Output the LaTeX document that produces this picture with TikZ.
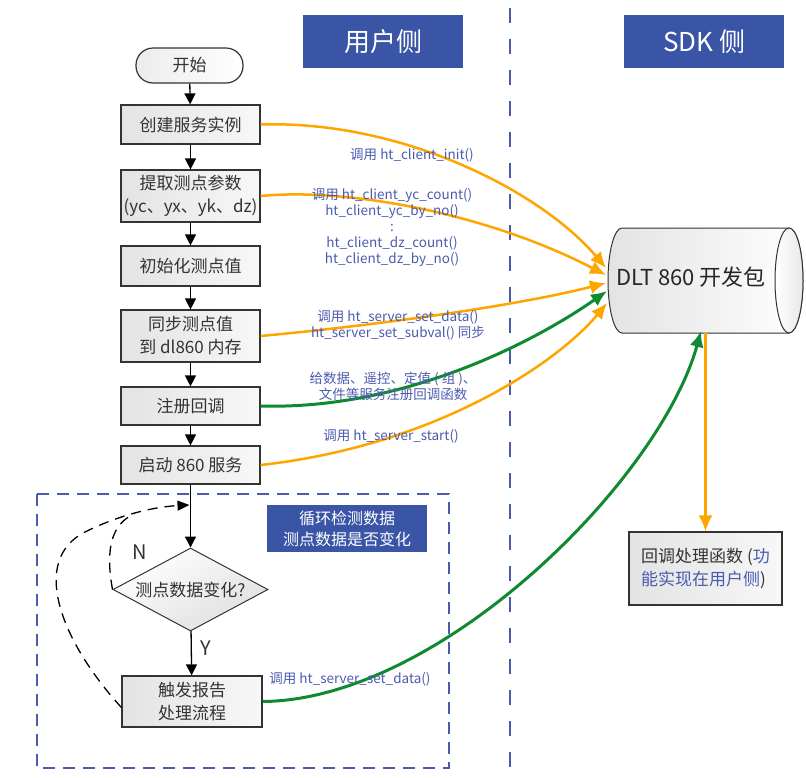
\documentclass[tikz,border=0pt]{standalone}
\usepackage{fontspec}
\setmainfont{Noto Sans CJK SC}
\usetikzlibrary{shapes.geometric,arrows.meta}
\definecolor{titleblue}{HTML}{3A55A5}
\definecolor{lblblue}{HTML}{4A5BAE}
\definecolor{orng}{HTML}{FFA500}
\definecolor{grn}{HTML}{108A30}
\definecolor{boxline}{HTML}{333333}
\begin{document}
\begin{tikzpicture}[x=1pt,y=-1pt,
  flowbox/.style={draw=boxline, line width=1.2pt, left color=gray!22, right color=gray!6,
     minimum width=139pt, inner sep=0pt, font=\fontsize{17}{23}\selectfont, text=black!80, align=center},
  stadium/.style={draw=boxline, line width=1.2pt, rounded corners=17pt, left color=gray!15, right color=white,
     minimum width=107pt, minimum height=35pt, inner sep=0pt, font=\fontsize{17}{23}\selectfont, text=black!80},
  dia/.style={diamond, draw=boxline, line width=1pt, shading=axis, top color=white, bottom color=gray!25, shading angle=30,
     minimum width=155pt, minimum height=83pt, inner sep=0pt, aspect=1.87, font=\fontsize{17}{23}\selectfont, text=black!80},
  titlebox/.style={fill=titleblue, text=white, minimum width=160pt, minimum height=53pt, inner sep=0pt,
     font=\fontsize{26}{30}\selectfont},
  infobox/.style={fill=titleblue, text=white, minimum width=160pt, minimum height=47pt, inner sep=0pt,
     font=\fontsize{16}{21}\selectfont, align=center},
  lbl/.style={text=lblblue, font=\fontsize{13.5}{16}\selectfont, align=center, inner sep=0pt},
  flow/.style={-{Triangle[length=11pt,width=11pt]}, line width=1.3pt, black},
  orangeline/.style={-{Latex[length=16pt,width=14pt]}, line width=2.5pt, orng},
  greenline/.style={-{Latex[length=16pt,width=14pt]}, line width=3pt, grn},
  dashloop/.style={line width=1.3pt, black, dash pattern=on 10pt off 7pt},
  yn/.style={font=\fontsize{20}{24}\selectfont, text=black!80, inner sep=0pt}
]
\useasboundingbox (0,0) rectangle (806,777);

% separators / frames
\coordinate (vtop) at (510,8);
\coordinate (vbot) at (510,777);
\draw[lblblue, line width=1.6pt, dash pattern=on 15pt off 16pt] (vtop) -- (vbot);
\draw[lblblue, line width=1.5pt, dash pattern=on 12pt off 8pt] (37,494) rectangle (449,768);

% titles
\node[titlebox] (tuser) at (383,41.5) {用户侧};
\node[titlebox] (tsdk) at (704,41.5) {SDK 侧};

% flow nodes
\node[stadium] (begin) at (189.5,65.5) {开始};
\node[flowbox, minimum height=39pt] (create) at (190.5,124.5) {创建服务实例};
\node[flowbox, minimum height=52pt] (extract) at (190.5,196) {提取测点参数\\(yc、yx、yk、dz)};
\node[flowbox, minimum height=40pt] (init) at (190.5,266) {初始化测点值};
\node[flowbox, minimum height=52pt] (sync) at (190.5,336) {同步测点值\\到 dl860 内存};
\node[flowbox, minimum height=38pt] (reg) at (190.5,406) {注册回调};
\node[flowbox, minimum height=38pt] (start) at (190.5,465) {启动 860 服务};
\node[dia] (chk) at (190.5,589.5) {测点数据变化?};
\node[flowbox, minimum width=140pt, minimum height=51pt] (trig) at (192,701.5) {触发报告\\处理流程};
\node[infobox] (info) at (347,528.5) {循环检测数据\\测点数据是否变化};

\node[yn] (nlab) at (140,552) {N};
\node[yn] (ylab) at (206,648) {Y};

% SDK cylinder
\path[left color=gray!22, right color=white, draw=black!80, line width=1pt]
  (622,228) -- (789,228) arc[start angle=-90, end angle=90, x radius=14, y radius=52.5]
  -- (622,333) arc[start angle=90, end angle=270, x radius=14, y radius=52.5] -- cycle;
\path[left color=white, right color=gray!18, draw=black!80, line width=1pt]
  (789,280.5) ellipse [x radius=14, y radius=52.5];
\node[minimum width=195pt, minimum height=105pt, inner sep=0pt] (sdk) at (705.5,280.5) {};
\node[font=\fontsize{22}{26}\selectfont, text=black!85, inner sep=0pt] (sdktext) at (691,277) {DLT 860 开发包};

% callback box
\node[flowbox, minimum width=153pt, minimum height=73pt, align=left] (cb) at (705.5,568.5)
  {回调处理函数 (\textcolor{lblblue}{功}\\\textcolor{lblblue}{能实现在用户侧})};

% flow arrows
\coordinate (loopin) at (189.5,505);
\coordinate (merge) at (134,514);
\draw[flow] (begin) -- (create);
\draw[flow] (create) -- (extract);
\draw[flow] (extract) -- (init);
\draw[flow] (init) -- (sync);
\draw[flow] (sync) -- (reg);
\draw[flow] (reg) -- (start);
\draw[flow] (start) -- (chk);
\draw[flow] (chk) -- (trig);

% dashed loop back
\draw[dashloop, -{Triangle[length=12pt,width=10pt]}] ([yshift=-6pt]trig.west)
  .. controls (60,640) and (30,560) .. (85,532)
  .. controls (115,517) and (150,507) .. (loopin);
\draw[dashloop] (chk.west) .. controls (105,548) and (112,524) .. (merge);

% SDK connectors
\coordinate (e1) at (606,268);
\coordinate (e2) at (606,275);
\coordinate (e3) at (606,283);
\coordinate (e4) at (607,291);
\coordinate (e5) at (607,303);
\coordinate (e6) at (701,331);
\draw[orangeline] (create.east) .. controls (400,120) and (540,190) .. (e1);
\draw[orangeline] (extract.east) .. controls (340,188) and (480,210) .. (e2);
\draw[orangeline] (sync.east) .. controls (380,325) and (520,305) .. (e3);
\draw[greenline] (reg.east) .. controls (400,410) and (530,345) .. (e4);
\draw[orangeline] (start.east) .. controls (440,445) and (560,360) .. (e5);
\draw[greenline] (trig.east) .. controls (440,700) and (660,480) .. (e6);
\draw[orangeline, line width=2.2pt] (sdk.south) -- (cb.north);

% labels
\node[lbl] (l1) at (412,155) {调用 ht\_client\_init()};
\node[lbl] (l2) at (392,228) {调用 ht\_client\_yc\_count()\\ht\_client\_yc\_by\_no()\\:\\ht\_client\_dz\_count()\\ht\_client\_dz\_by\_no()};
\node[lbl] (l3) at (398,325) {调用 ht\_server\_set\_data()\\ht\_server\_set\_subval() 同步};
\node[lbl] (l4) at (393,386) {给数据、遥控、定值 ( 组 )、\\文件等服务注册回调函数};
\node[lbl] (l5) at (391,436) {调用 ht\_server\_start()};
\node[lbl] (l6) at (350,679) {调用 ht\_server\_set\_data()};
\end{tikzpicture}
\end{document}
